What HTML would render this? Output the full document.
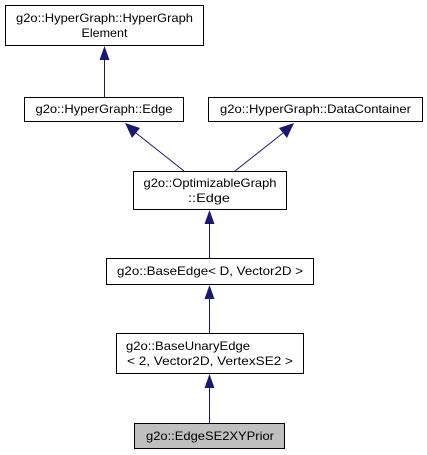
<!DOCTYPE html>
<html><head><meta charset="utf-8"><style>body{margin:0;background:#fff}svg{display:block}</style></head>
<body>
<svg width="427" height="455" viewBox="0 0 427 455" xmlns="http://www.w3.org/2000/svg" font-family="Liberation Sans, Helvetica, sans-serif" font-size="12">
<g fill="#fff" stroke="#000" stroke-width="1">
<rect x="5.5" y="5.5" width="198" height="40"/>
<rect x="24.5" y="97.5" width="159" height="24"/>
<rect x="208.5" y="97.5" width="214" height="24"/>
<rect x="133.5" y="171.5" width="153" height="38"/>
<rect x="106.5" y="258.5" width="207" height="26"/>
<rect x="116.5" y="333.5" width="187" height="40"/>
<rect x="134.5" y="423.5" width="150" height="25" fill="#bfbfbf"/>
</g>
<g stroke="#191970" stroke-width="1" fill="none">
<line x1="104.5" y1="97" x2="104.5" y2="58"/>
<line x1="184" y1="171" x2="136" y2="133"/>
<line x1="235" y1="171" x2="283" y2="133"/>
<line x1="209.5" y1="258" x2="209.5" y2="221"/>
<line x1="209.5" y1="333" x2="209.5" y2="296"/>
<line x1="209.5" y1="423" x2="209.5" y2="386"/>
</g>
<g fill="#191970">
<polygon points="104.5,46 99.5,60 109.5,60"/>
<polygon points="125,123 132,138 140,128"/>
<polygon points="294,123 279,128 287,138"/>
<polygon points="209.5,210 204.5,224 214.5,224"/>
<polygon points="209.5,285 204.5,299 214.5,299"/>
<polygon points="209.5,374 204.5,388 214.5,388"/>
</g>
<g fill="#000" text-anchor="middle">
<text x="104.5" y="22" textLength="177" lengthAdjust="spacingAndGlyphs">g2o::HyperGraph::HyperGraph</text>
<text x="104.5" y="37" textLength="46" lengthAdjust="spacingAndGlyphs">Element</text>
<text x="104" y="113" textLength="137" lengthAdjust="spacingAndGlyphs">g2o::HyperGraph::Edge</text>
<text x="315.5" y="113" textLength="191" lengthAdjust="spacingAndGlyphs">g2o::HyperGraph::DataContainer</text>
<text x="210" y="187" textLength="133" lengthAdjust="spacingAndGlyphs">g2o::OptimizableGraph</text>
<text x="209" y="202" textLength="42" lengthAdjust="spacingAndGlyphs">::Edge</text>
<text x="210" y="275" textLength="186" lengthAdjust="spacingAndGlyphs">g2o::BaseEdge&lt; D, Vector2D &gt;</text>
<text x="188" y="350" textLength="124" lengthAdjust="spacingAndGlyphs">g2o::BaseUnaryEdge</text>
<text x="210" y="365" textLength="166" lengthAdjust="spacingAndGlyphs">&lt; 2, Vector2D, VertexSE2 &gt;</text>
<text x="210" y="440" textLength="128" lengthAdjust="spacingAndGlyphs">g2o::EdgeSE2XYPrior</text>
</g>
</svg>
</body></html>
